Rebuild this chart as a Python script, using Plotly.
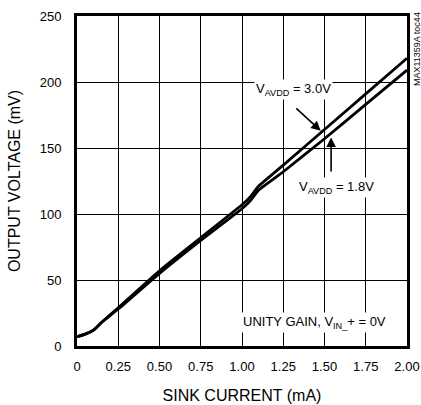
import plotly.graph_objects as go

FONT = "Liberation Sans Narrow, Arial Narrow, Liberation Sans, Arial, sans-serif"

sink_ma = [0, 0.05, 0.1, 0.15, 0.25, 0.5, 0.75, 1.0, 1.05, 1.1, 1.25, 1.5, 1.75, 2.0]
vout_3v0 = [7, 9, 12, 18, 29, 57, 82, 107, 113, 121, 137, 164, 191, 218]
vout_1v8 = [7, 9, 12, 18, 28, 55, 80, 104, 110, 118, 132, 157, 183, 209]

x_ticks = [0, 0.25, 0.5, 0.75, 1.0, 1.25, 1.5, 1.75, 2.0]
x_tick_text = ["0", "0.25", "0.50", "0.75", "1.00", "1.25", "1.50", "1.75", "2.00"]
y_ticks = [0, 50, 100, 150, 200, 250]

fig = go.Figure()
for name, ys in (("3.0V", vout_3v0), ("1.8V", vout_1v8)):
    fig.add_trace(
        go.Scatter(
            x=sink_ma,
            y=ys,
            mode="lines",
            name=name,
            line=dict(color="black", width=2.8, shape="spline", smoothing=0.4),
            showlegend=False,
        )
    )

label_font = dict(family=FONT, size=13, color="black")
fig.add_annotation(
    x=1.31, y=194, text="V<sub>AVDD</sub> = 3.0V", showarrow=False,
    font=label_font, bgcolor="white", xanchor="center", yanchor="middle",
)
fig.add_annotation(
    x=1.477, y=163, ax=1.32, ay=181, axref="x", ayref="y",
    text="", showarrow=True, arrowhead=2, arrowsize=1.2, arrowwidth=1.6,
    arrowcolor="black",
)
fig.add_annotation(
    x=1.54, y=158, ax=1.54, ay=131, axref="x", ayref="y",
    text="", showarrow=True, arrowhead=2, arrowsize=1.2, arrowwidth=1.6,
    arrowcolor="black",
)
fig.add_annotation(
    x=1.57, y=120, text="V<sub>AVDD</sub> = 1.8V", showarrow=False,
    font=label_font, bgcolor="white", xanchor="center", yanchor="middle",
)
fig.add_annotation(
    x=1.44, y=18, text="UNITY GAIN, V<sub>IN_</sub>+ = 0V", showarrow=False,
    font=label_font, bgcolor="white", xanchor="center", yanchor="middle",
)
fig.add_annotation(
    x=1.0, xref="paper", xanchor="left", xshift=3,
    y=1.0, yref="paper", yanchor="top", yshift=6,
    text="MAX11359A toc44", textangle=-90, showarrow=False,
    font=dict(family=FONT, size=9, color="black"),
)

fig.update_layout(
    width=421,
    height=405,
    margin=dict(l=77, r=14, t=16, b=59),
    paper_bgcolor="white",
    plot_bgcolor="white",
    font=dict(family=FONT, size=13, color="black"),
)
fig.update_xaxes(
    range=[0, 2.0],
    tickvals=x_ticks,
    ticktext=x_tick_text,
    showgrid=True,
    gridcolor="black",
    gridwidth=1,
    zeroline=False,
    showline=True,
    linecolor="black",
    linewidth=3,
    mirror=True,
    ticks="",
    ticklabelstandoff=6,
    automargin=False,
    title=dict(text="SINK CURRENT (mA)", standoff=18),
)
fig.update_yaxes(
    range=[0, 250],
    tickvals=y_ticks,
    showgrid=True,
    gridcolor="black",
    gridwidth=1,
    zeroline=False,
    showline=True,
    linecolor="black",
    linewidth=3,
    mirror=True,
    ticks="",
    ticklabelstandoff=10,
    automargin=False,
    title=dict(text="OUTPUT VOLTAGE (mV)", standoff=16),
)

# drop the default page margin and scrollbars so the figure fills the window
page_fix = (
    "document.body.style.margin='0';"
    "document.documentElement.style.overflow='hidden';"
    "document.body.style.overflow='hidden';"
)
fig.write_html("out.html", post_script=page_fix, config={"displayModeBar": False})
